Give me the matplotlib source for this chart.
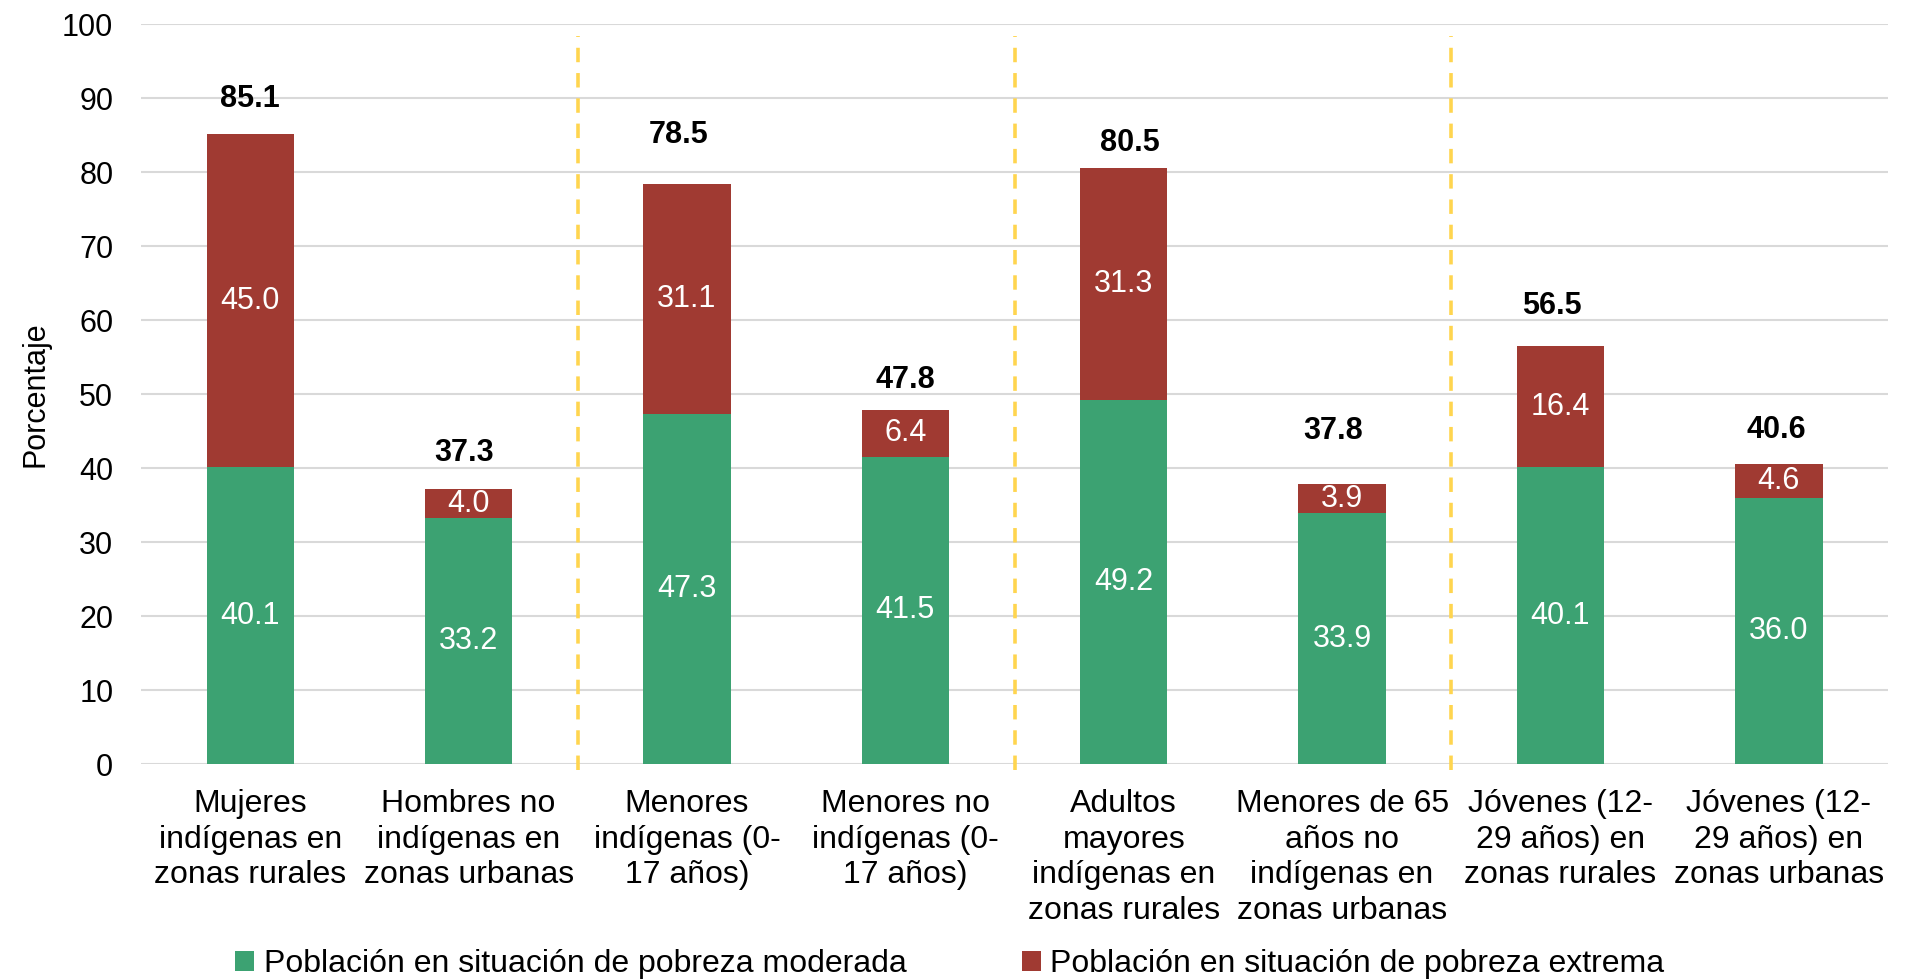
import matplotlib
matplotlib.use("Agg")
import matplotlib.pyplot as plt
import numpy as np

plt.rcParams["font.family"] = ["Liberation Sans", "DejaVu Sans"]

# Data
categories = [
    "Mujeres\nindígenas en\nzonas rurales",
    "Hombres no\nindígenas en\nzonas urbanas",
    "Menores\nindígenas (0-\n17 años)",
    "Menores no\nindígenas (0-\n17 años)",
    "Adultos\nmayores\nindígenas en\nzonas rurales",
    "Menores de 65\naños no\nindígenas en\nzonas urbanas",
    "Jóvenes (12-\n29 años) en\nzonas rurales",
    "Jóvenes (12-\n29 años) en\nzonas urbanas",
]
moderada = [40.1, 33.2, 47.3, 41.5, 49.2, 33.9, 40.1, 36.0]
extrema = [45.0, 4.0, 31.1, 6.4, 31.3, 3.9, 16.4, 4.6]
totales = [85.1, 37.3, 78.5, 47.8, 80.5, 37.8, 56.5, 40.6]
series_names = [
    "Población en situación de pobreza moderada",
    "Población en situación de pobreza extrema",
]
yticks = list(range(0, 101, 10))

# Styling / label placement (manual offsets as in the original layout)
green = "#3CA272"
red = "#A03A32"
total_dy = [4.7, 4.7, 6.5, 4.1, 3.4, 7.2, 5.4, 4.5]
total_dx = [0.0, -0.02, -0.04, 0.0, 0.03, -0.04, -0.04, -0.01]
separators = [1.5, 3.5, 5.5]
FS = 22
FS_CAT = 23

fig = plt.figure(figsize=(19.11, 9.80), dpi=100)
ax = fig.add_axes([0.0738, 0.2204, 0.9142, 0.7551])

x = np.arange(len(categories))
w = 0.4
b1 = ax.bar(x, moderada, width=w, color=green, zorder=2, label=series_names[0])
b2 = ax.bar(x, extrema, width=w, bottom=moderada, color=red, zorder=2,
            label=series_names[1])

# segment labels
for i in range(len(x)):
    ax.text(x[i], moderada[i] / 2, f"{moderada[i]:.1f}", ha="center",
            va="center", color="white", fontsize=FS, zorder=3)
    ax.text(x[i], moderada[i] + extrema[i] / 2, f"{extrema[i]:.1f}",
            ha="center", va="center", color="white", fontsize=FS, zorder=3)
    ax.text(x[i] + total_dx[i], totales[i] + total_dy[i], f"{totales[i]:.1f}",
            ha="center", va="center", color="black", fontsize=FS,
            fontweight="bold", zorder=3)

# dashed separators
for s in separators:
    ax.plot([s, s], [-0.8, 98.4], color="#FFD54F", linestyle=(0, (4, 3)),
            linewidth=2.6, zorder=1, clip_on=False)

ax.set_xlim(-0.5, len(categories) - 0.5)
ax.set_ylim(0, 100)
ax.set_yticks(yticks)
ax.yaxis.grid(True, color="#D9D9D9", linewidth=1.5, zorder=0)
ax.set_axisbelow(True)
for sp in ax.spines.values():
    sp.set_visible(False)
ax.tick_params(axis="y", length=0, pad=20, labelsize=FS)
ax.tick_params(axis="x", length=0, pad=18, labelsize=FS_CAT)
ax.set_xticks(x)
ax.set_xticklabels(categories, linespacing=1.24)
ax.set_ylabel("Porcentaje", fontsize=FS)
ax.yaxis.set_label_coords(-0.052, 0.5)

fig.legend(handles=[b1, b2], labels=series_names, loc="center",
           bbox_to_anchor=(0.497, 0.016), ncol=2, frameon=False,
           fontsize=FS_CAT, handlelength=0.6, handleheight=0.6,
           handletextpad=0.3, columnspacing=3.6)

fig.savefig("out.png", dpi=100)
